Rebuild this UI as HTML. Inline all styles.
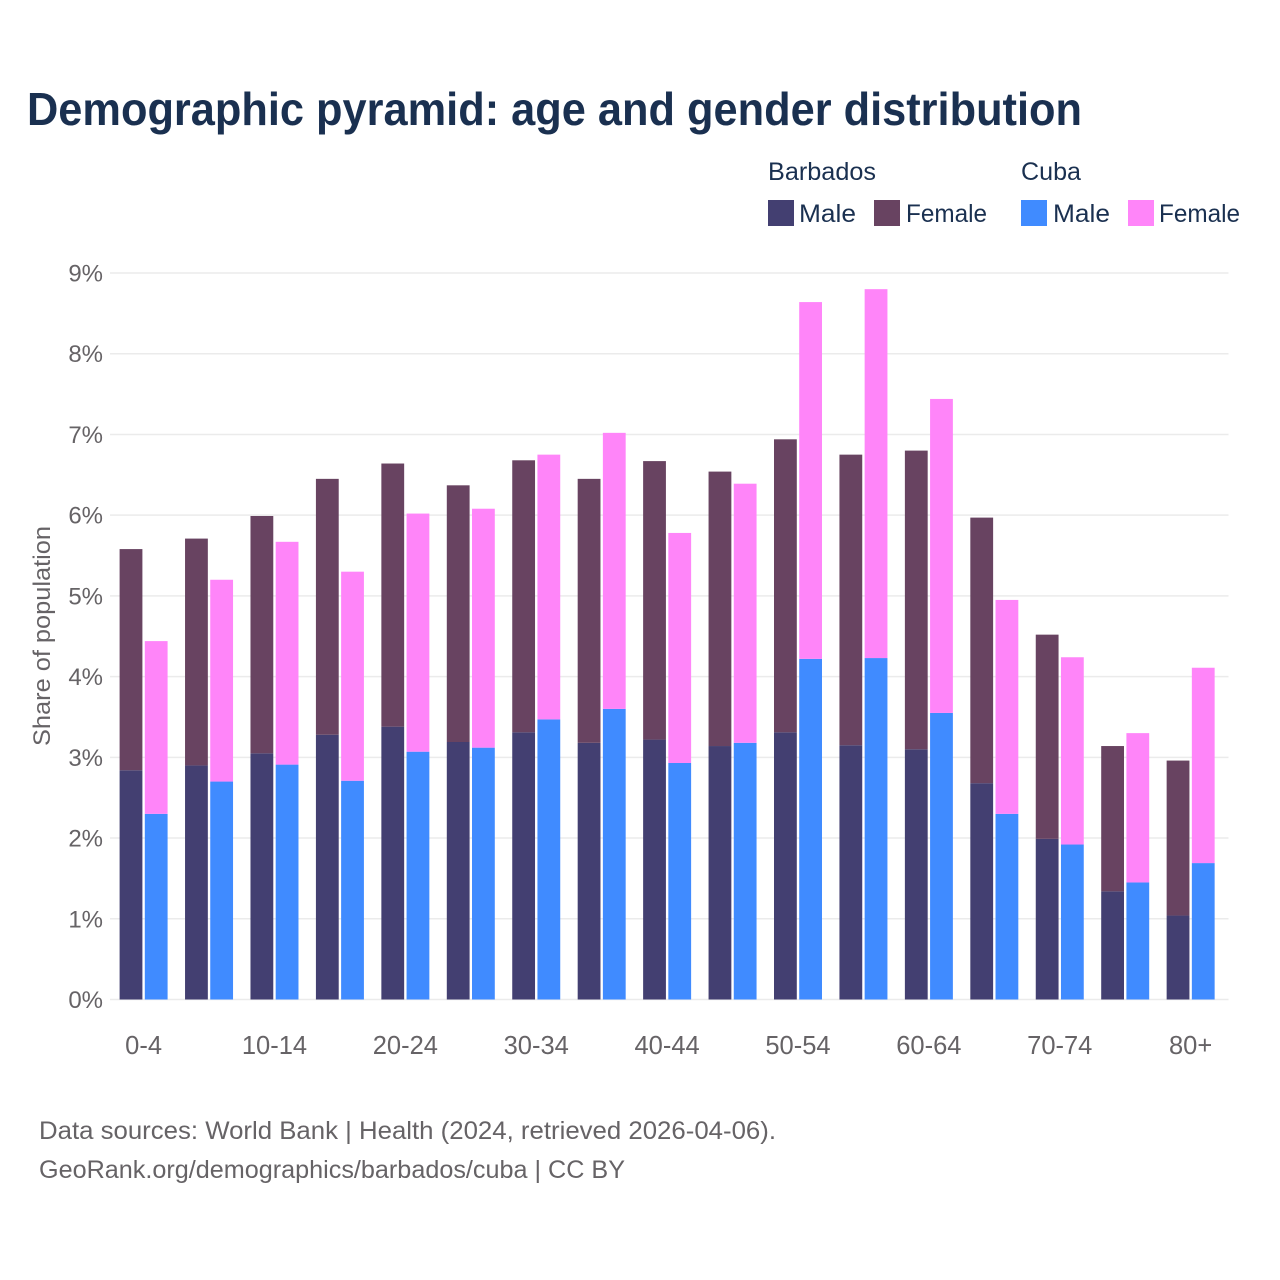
<!DOCTYPE html>
<html lang="en">
<head>
<meta charset="utf-8">
<title>Demographic pyramid</title>
<style>
html,body{margin:0;padding:0;background:#fff;}
svg{display:block;font-family:"Liberation Sans",sans-serif;}
</style>
</head>
<body>
<svg id="chart" width="1280" height="1280" viewBox="0 0 1280 1280" xmlns="http://www.w3.org/2000/svg">
  <rect width="1280" height="1280" fill="#fff"/>
  <text x="27" y="125" font-size="46" font-weight="700" fill="#1a3050" textLength="1055" lengthAdjust="spacingAndGlyphs">Demographic pyramid: age and gender distribution</text>

  <g>
    <text x="768" y="180" font-size="25" fill="#1a3050" textLength="108" lengthAdjust="spacingAndGlyphs">Barbados</text>
    <text x="1021" y="180" font-size="25" fill="#1a3050" textLength="60" lengthAdjust="spacingAndGlyphs">Cuba</text>
    <rect x="768" y="200" width="26" height="26" fill="#433f71"/>
    <text x="799" y="222" font-size="25" fill="#1a3050" textLength="57" lengthAdjust="spacingAndGlyphs">Male</text>
    <rect x="874" y="200" width="26" height="26" fill="#684361"/>
    <text x="906" y="222" font-size="25" fill="#1a3050" textLength="81" lengthAdjust="spacingAndGlyphs">Female</text>
    <rect x="1021" y="200" width="26" height="26" fill="#408bff"/>
    <text x="1053" y="222" font-size="25" fill="#1a3050" textLength="57" lengthAdjust="spacingAndGlyphs">Male</text>
    <rect x="1128" y="200" width="26" height="26" fill="#ff85f9"/>
    <text x="1159" y="222" font-size="25" fill="#1a3050" textLength="81" lengthAdjust="spacingAndGlyphs">Female</text>
  </g>

  <g id="grid"></g>
  <g id="yticks"></g>
  <g id="bars"></g>
  <g id="xticks"></g>

  <text transform="translate(50,636) rotate(-90)" text-anchor="middle" font-size="24" fill="#666366" textLength="220" lengthAdjust="spacingAndGlyphs">Share of population</text>

  <text x="39" y="1139" font-size="25" fill="#666366" textLength="737" lengthAdjust="spacingAndGlyphs">Data sources: World Bank | Health (2024, retrieved 2026-04-06).</text>
  <text x="39" y="1178" font-size="25" fill="#666366" textLength="586" lengthAdjust="spacingAndGlyphs">GeoRank.org/demographics/barbados/cuba | CC BY</text>
</svg>
<script>
const categories = ["0-4","5-9","10-14","15-19","20-24","25-29","30-34","35-39","40-44","45-49","50-54","55-59","60-64","65-69","70-74","75-79","80+"];
const tickLabels = ["0-4","","10-14","","20-24","","30-34","","40-44","","50-54","","60-64","","70-74","","80+"];
const yTicks = [0,1,2,3,4,5,6,7,8,9];
const barbadosMale = [2.84,2.90,3.05,3.28,3.38,3.19,3.31,3.18,3.22,3.14,3.31,3.15,3.10,2.68,1.99,1.34,1.04];
const barbadosFemale = [2.74,2.81,2.94,3.17,3.26,3.18,3.37,3.27,3.45,3.40,3.63,3.60,3.70,3.29,2.53,1.80,1.92];
const cubaMale = [2.30,2.70,2.91,2.71,3.07,3.12,3.47,3.60,2.93,3.18,4.22,4.23,3.55,2.30,1.92,1.45,1.69];
const cubaFemale = [2.14,2.50,2.76,2.59,2.95,2.96,3.28,3.42,2.85,3.21,4.42,4.57,3.89,2.65,2.32,1.85,2.42];

const NS = "http://www.w3.org/2000/svg";
const yScale = v => 999.5 - v * 80.72;
const xCenter = i => 143.6 + i * 65.44;
const BAR_W = 22.8, GAP = 2.4;

function make(parent, tag, attrs, text) {
  const el = document.createElementNS(NS, tag);
  for (const k in attrs) el.setAttribute(k, attrs[k]);
  if (text !== undefined) el.textContent = text;
  parent.appendChild(el);
  return el;
}

const grid = document.getElementById("grid");
const yt = document.getElementById("yticks");
yTicks.forEach(t => {
  const line = make(grid, "line", {x1:110, x2:1228.5, y1:yScale(t), y2:yScale(t), stroke:"#ebebeb", "stroke-width":1.5});
  
  
  const lab = make(yt, "text", {x:103, y:yScale(t)+8.5, "text-anchor":"end", "font-size":24, fill:"#666366"}, t + "%");
  
  
});

const barsG = document.getElementById("bars");
function stack(i, x, male, female, maleColor, femaleColor, country) {
  const y0 = yScale(0), y1 = yScale(male), y2 = yScale(male + female);
  const m = make(barsG, "rect", {x:x, y:y1, width:BAR_W, height:y0-y1, fill:maleColor});
  
  
  m.setAttribute('data-series', country + '-male-' + categories[i]);
  const f = make(barsG, "rect", {x:x, y:y2, width:BAR_W, height:y1-y2, fill:femaleColor});
  
  
  f.setAttribute('data-series', country + '-female-' + categories[i]);
}
categories.forEach((c, i) => {
  const cx = xCenter(i);
  stack(i, cx - GAP/2 - BAR_W, barbadosMale[i], barbadosFemale[i], "#433f71", "#684361", "barbados");
  stack(i, cx + GAP/2, cubaMale[i], cubaFemale[i], "#408bff", "#ff85f9", "cuba");
});

const xt = document.getElementById("xticks");
tickLabels.forEach((l, i) => {
  if (!l) return;
  const lab = make(xt, "text", {x:xCenter(i), y:1054, "text-anchor":"middle", "font-size":25.5, fill:"#666366"}, l);
  
  
});
</script>
</body>
</html>
